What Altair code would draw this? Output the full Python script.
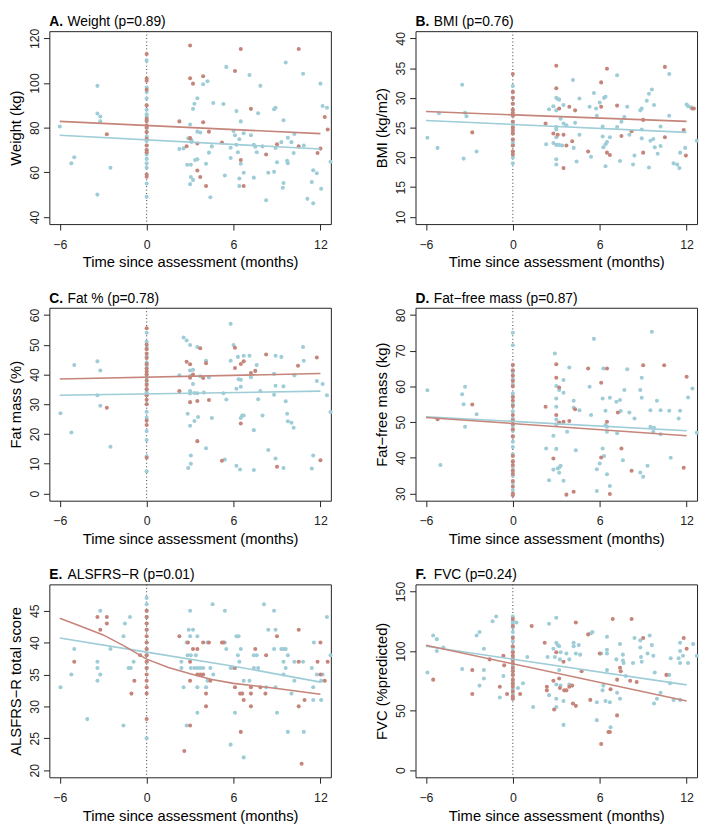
import altair as alt
import pandas as pd

FONT = "Liberation Sans"
RED = "#C5857A"
BLUE = "#9ECCD7"
INK = "#222222"

X_DOMAIN = [-6.72, 12.72]
X_TICKS = [-6, 0, 6, 12]
X_TITLE = "Time since assessment (months)"

# ---------------- Panel A: Weight ----------------
A_RED = [(-2.75, 77), (2.26, 82.8), (2.76, 71.7), (3.0, 116.8), (3.0, 102.1), (3.2, 99.7), (3.0, 75.3),
         (3.5, 72.9), (3.5, 60.8), (3.7, 57.9), (3.9, 103), (3.9, 82.4), (4.3, 78.2), (4.1, 53.9),
         (5.2, 73.3), (6.1, 105.4), (6.5, 115.2), (6.5, 65.5), (6.7, 53.9), (7.2, 88.4), (8.25, 68.0),
         (9.0, 72.6), (10.5, 115.2), (10.5, 71.6), (11.8, 68.6), (12.0, 70.6), (12.3, 84.8), (12.5, 79.2)]
A_RED_AT0 = [113, 102, 101, 97, 90, 84, 83, 81, 80, 78, 75, 72, 70, 69, 59, 58]
A_BLUE = [(-6, 80.5), (-5.2, 64), (-5.0, 66.7), (-3.4, 98.7), (-3.4, 86.3), (-3.2, 85), (-3.2, 82.8),
          (-2.5, 62), (-3.4, 50), (2.26, 70.4), (2.55, 70.7), (2.87, 75.2), (3.2, 88.4), (3.3, 90.7),
          (3.5, 93.2), (3.0, 81.4), (3.1, 73.6), (3.1, 74.3), (3.5, 78.2), (3.7, 77.8), (2.8, 63.4),
          (3.05, 63.4), (3.35, 65.5), (3.5, 65.8), (3.05, 57.9), (3.2, 56.6), (3.0, 54.7), (3.9, 99.4),
          (4.2, 100.8), (4.3, 68.8), (4.1, 63.8), (4.4, 48.8), (4.5, 71.6), (4.6, 91.0), (5.3, 90.6),
          (5.5, 107.2), (5.4, 58.6), (5.8, 71.0), (5.8, 66.4), (6.0, 78.5), (6.1, 76.6), (6.2, 87.4),
          (6.2, 72.3), (6.3, 69.0), (6.4, 74.8), (6.5, 82.8), (6.5, 63.8), (6.4, 57.2), (6.4, 53.9),
          (6.7, 59.8), (6.7, 77.5), (7.1, 103.6), (7.2, 76.6), (7.5, 71.4), (7.4, 72.3), (7.4, 57.6),
          (7.6, 69.0), (7.85, 98.7), (7.7, 86.4), (8.0, 71.6), (8.25, 47.5), (8.4, 59.8), (8.8, 88.2),
          (8.9, 88.9), (8.8, 60.2), (8.9, 70.9), (9.0, 64.5), (9.3, 73.5), (9.45, 83.3), (9.45, 55.2),
          (9.4, 53.1), (9.6, 109.2), (9.75, 75.5), (9.7, 65.1), (9.75, 64.1), (10.0, 73.5), (10.2, 77.2),
          (10.15, 68.6), (10.8, 104.1), (10.85, 72.0), (11.1, 48.1), (11.4, 55.6), (11.5, 60.9),
          (11.5, 46.1), (11.75, 59.6), (12.0, 99.7), (12.05, 52.6), (12.15, 89.7), (12.45, 88.9),
          (12.7, 64.7)]
A_BLUE_AT0 = [110, 98, 96, 93, 88, 86, 85, 83, 80, 78, 76, 74, 72, 70, 68, 66, 64, 62, 55, 49]
A_FIT_T = [-6, 12]
A_FIT_RED = [82.8, 77.3]
A_FIT_BLUE = [76.6, 70.4]

# ---------------- Panel B: BMI ----------------
B_RED = [(-2.8, 24.2), (2.26, 25.7), (2.8, 24.0), (3.0, 35.4), (3.0, 31.6), (3.1, 23.8), (3.2, 28.2),
         (3.5, 23.8), (3.5, 18.2), (3.7, 22.0), (3.9, 28.5), (4.1, 22.7), (4.3, 27.9), (5.2, 21.0),
         (6.1, 32.6), (6.1, 28.5), (6.5, 34.9), (6.5, 20.8), (6.7, 20.4), (7.2, 28.7), (7.5, 23.6),
         (8.2, 24.4), (9.0, 26.3), (9.0, 20.8), (10.5, 35.2), (10.5, 23.4), (11.8, 24.6), (11.95, 20.3),
         (12.4, 28.2), (12.5, 28.2)]
B_RED_AT0 = [34, 31, 30, 29, 28, 27.5, 27, 26, 25, 24.5, 24, 23, 22, 21, 20.5]
B_BLUE = [(-5.9, 23.3), (-5.2, 21.6), (-5.1, 27.4), (-3.5, 32.2), (-3.4, 19.8), (-3.3, 27.5), (-3.2, 26.9),
          (-2.5, 21.0), (2.3, 22.2), (2.5, 28.1), (2.8, 28.6), (2.8, 22.4), (3.0, 30.0), (3.1, 29.8),
          (3.2, 29.7), (3.0, 27.9), (3.0, 25.1), (3.0, 24.7), (3.0, 23.4), (3.0, 22.1), (3.2, 22.1),
          (3.0, 19.7), (3.0, 18.8), (3.3, 26.5), (3.4, 22.0), (3.5, 25.7), (3.7, 25.4), (3.5, 28.8),
          (4.15, 33.0), (4.2, 21.6), (4.3, 25.8), (4.4, 19.3), (4.6, 29.9), (4.6, 23.8), (5.3, 28.5),
          (5.4, 20.1), (5.6, 30.8), (5.75, 28.2), (5.8, 27.0), (6.0, 29.2), (6.2, 25.2), (6.2, 23.5),
          (6.25, 21.7), (6.3, 30.0), (6.4, 30.2), (6.4, 22.2), (6.4, 18.5), (6.5, 22.6), (6.7, 23.4),
          (7.2, 25.1), (7.2, 33.8), (7.4, 19.4), (7.5, 26.0), (7.7, 26.8), (7.9, 28.5), (8.05, 23.8),
          (8.3, 18.8), (8.4, 20.3), (8.8, 27.9), (8.9, 28.2), (8.9, 24.7), (8.9, 23.2), (9.25, 29.5),
          (9.4, 30.7), (9.5, 22.8), (9.4, 18.3), (9.6, 31.4), (9.7, 23.1), (9.75, 28.8), (9.8, 21.7),
          (10.0, 20.6), (10.2, 21.9), (10.2, 25.2), (10.8, 27.0), (10.8, 34.0), (11.1, 19.0),
          (11.35, 18.8), (11.55, 20.8), (11.5, 18.2), (11.9, 21.6), (12.0, 28.9), (12.1, 28.6),
          (12.3, 28.4), (12.7, 22.8)]
B_BLUE_AT0 = [32, 31, 30, 29, 28, 27, 26, 25.5, 25, 24, 23, 22.5, 22, 21, 20, 19]
B_FIT_T = [-6, 12]
B_FIT_RED = [27.7, 26.05]
B_FIT_BLUE = [26.2, 24.2]

# ---------------- Panel C: Fat % ----------------
C_RED = [(-2.75, 28.8), (2.26, 34.4), (2.76, 44.3), (3.0, 43.4), (3.0, 38.9), (3.0, 30.7), (3.2, 40.0),
         (3.5, 31.1), (3.5, 17.6), (3.7, 48.8), (3.9, 38.8), (4.1, 43.8), (4.3, 31.4), (5.2, 11.0),
         (6.1, 49.0), (6.1, 42.2), (6.5, 43.5), (6.5, 23.5), (6.7, 44.4), (7.2, 40.5), (7.5, 41.2),
         (8.25, 46.7), (9.0, 9.0), (10.45, 42.9), (11.75, 45.7), (12.0, 11.2)]
C_RED_AT0 = [55.5, 50, 48.5, 47, 45.5, 43.5, 42, 41, 40, 38, 36.5, 35, 33, 31.5, 30, 24.5, 23, 12]
C_BLUE = [(-5.95, 27.0), (-5.2, 20.5), (-5.0, 43.2), (-3.4, 44.4), (-3.4, 33.0), (-3.2, 41.3),
          (-3.2, 29.5), (-2.5, 15.7), (2.26, 39.7), (2.55, 52.4), (2.76, 51.4), (2.83, 26.8), (2.87, 8.6),
          (3.0, 49.9), (3.0, 41.3), (3.0, 39.5), (3.0, 34.4), (3.0, 33.6), (3.0, 22.8), (3.05, 12.8),
          (3.05, 10.0), (3.2, 41.6), (3.2, 36.8), (3.3, 33.8), (3.3, 24.4), (3.5, 49.2), (3.5, 33.7),
          (3.55, 25.7), (3.7, 39.4), (3.95, 33.9), (4.1, 44.6), (4.1, 15.2), (4.3, 39.0), (4.5, 25.4),
          (5.4, 11.4), (5.3, 33.7), (5.5, 31.6), (5.8, 57.0), (5.8, 44.6), (6.0, 49.9), (6.2, 35.2),
          (6.2, 9.3), (6.3, 45.9), (6.35, 38.4), (6.45, 8.1), (6.5, 38.2), (6.5, 35.9), (6.5, 25.4),
          (6.6, 26.2), (6.7, 46.3), (6.7, 26.2), (7.1, 46.3), (7.2, 39.1), (7.4, 21.3), (7.4, 7.9),
          (7.6, 43.2), (7.7, 31.7), (7.85, 34.4), (8.0, 26.2), (8.4, 14.6), (8.8, 40.2), (8.8, 33.2),
          (8.9, 46.3), (8.9, 36.2), (8.9, 11.8), (9.3, 45.9), (9.45, 36.0), (9.45, 8.6), (9.6, 31.0),
          (9.7, 26.8), (9.75, 24.3), (10.0, 23.8), (10.15, 22.1), (10.2, 39.7), (10.8, 49.2),
          (10.85, 44.6), (11.4, 8.4), (11.5, 12.8), (11.75, 37.8), (12.15, 36.8), (12.45, 33.0),
          (12.7, 27.4)]
C_BLUE_AT0 = [54, 51, 49, 46, 44, 43, 42, 40, 39, 37, 35, 34, 33, 30, 27.5, 25.5, 21, 18, 12.5, 7.5]
C_FIT_T = [-6, 12]
C_FIT_RED = [38.5, 40.3]
C_FIT_BLUE = [33.0, 34.4]

# ---------------- Panel D: Fat-free mass ----------------
D_RED = [(-5.2, 50.8), (-2.8, 54.9), (2.26, 54.3), (2.8, 39.8), (3.0, 66.2), (3.0, 62.4), (3.0, 52.0),
         (3.2, 59.7), (3.2, 49.9), (3.5, 50.1), (3.7, 29.7), (3.9, 50.3), (4.2, 30.5), (4.3, 53.6),
         (5.2, 65.0), (6.1, 61.0), (6.1, 40.1), (6.5, 65.0), (6.5, 50.1), (6.7, 29.9), (7.25, 52.7),
         (7.5, 42.6), (8.2, 36.4), (9.0, 65.9), (10.45, 65.9), (11.8, 37.2), (12.0, 62.7)]
D_RED_AT0 = [66, 64.5, 63, 61.5, 60, 57, 56, 54.5, 52, 50.5, 49.5, 48, 46, 40.5, 39, 38, 36.5, 35.5,
             33.5, 32, 30, 29.5]
D_BLUE = [(-5.9, 58.9), (-5.0, 38.0), (-3.5, 57.8), (-3.4, 55.0), (-3.3, 59.9), (-2.5, 52.2), (-3.3, 48.7),
          (2.3, 42.6), (2.5, 33.7), (2.8, 46.2), (2.8, 36.7), (2.9, 69.2), (3.0, 60.1), (3.0, 56.6),
          (3.0, 54.3), (3.0, 50.7), (3.0, 49.3), (3.0, 42.5), (3.1, 37.0), (3.2, 37.3), (3.2, 35.8),
          (3.3, 37.8), (3.2, 59.0), (3.5, 61.8), (3.5, 58.2), (3.5, 33.6), (3.75, 47.3), (3.9, 65.3),
          (4.2, 56.0), (4.2, 54.0), (4.35, 42.1), (4.6, 53.3), (5.3, 59.9), (5.4, 52.0), (5.6, 73.3),
          (5.8, 30.7), (5.8, 36.8), (6.0, 38.4), (6.2, 42.6), (6.2, 56.6), (6.25, 65.0), (6.3, 40.5),
          (6.4, 53.2), (6.4, 49.2), (6.5, 48.7), (6.5, 47.3), (6.5, 35.4), (6.7, 56.8), (6.7, 32.1),
          (7.15, 55.7), (7.2, 46.9), (7.4, 56.2), (7.45, 53.1), (7.6, 39.3), (7.7, 59.0), (7.9, 64.8),
          (8.05, 52.7), (8.4, 51.0), (8.8, 59.0), (8.8, 35.9), (8.9, 62.4), (8.9, 56.8), (9.0, 34.7),
          (9.3, 37.8), (9.5, 53.3), (9.5, 48.7), (9.6, 75.3), (9.75, 48.4), (9.7, 47.3), (9.95, 56.0),
          (10.2, 53.3), (10.2, 46.6), (10.8, 53.2), (10.9, 40.0), (11.45, 51.0), (11.55, 53.2),
          (12.1, 56.9), (12.4, 59.4), (12.7, 47.0)]
D_BLUE_AT0 = [75, 71.5, 66, 64, 62, 60.5, 58, 57, 55, 53, 51, 49, 47.5, 46, 44.5, 43, 41, 39, 37.5, 36,
              35, 33, 31]
D_FIT_T = [-6, 12]
D_FIT_RED = [51.3, 46.2]
D_FIT_BLUE = [51.5, 47.6]

# ---------------- Panel E: ALSFRS-R ----------------
E_RED = [(-5.0, 37), (-3.4, 44), (-3.2, 42), (-2.75, 44), (-2.75, 43), (-1.05, 32), (-0.85, 34),
         (-0.45, 38), (2.26, 41), (2.6, 23), (2.85, 40), (3.0, 27), (3.0, 37), (3.0, 34), (3.2, 39),
         (3.5, 39), (3.5, 35), (3.7, 35), (3.9, 35), (3.9, 40), (4.1, 32), (4.1, 30), (4.3, 40),
         (4.4, 34), (5.2, 40), (5.3, 40), (6.1, 36), (6.1, 33), (6.45, 32), (6.6, 32), (6.5, 26),
         (6.7, 31), (7.2, 33), (7.2, 32), (7.2, 30), (7.5, 39), (7.85, 33), (8.25, 38), (8.2, 32),
         (9.0, 41), (10.5, 42), (10.5, 37), (10.5, 30), (10.7, 21), (10.9, 31), (11.8, 37), (12.0, 40),
         (12.0, 35), (12.3, 34), (12.5, 37)]
E_RED_AT0 = [45, 44, 43, 42, 41, 40, 39, 38, 37, 36, 35, 34, 33, 32, 28]
E_BLUE = [(-5.95, 33), (-5.2, 35), (-5.0, 39), (-4.1, 28), (-3.2, 45), (-3.4, 37), (-3.4, 36), (-3.2, 35),
          (-3.4, 34), (-2.5, 39), (-1.6, 41), (-1.5, 43), (-1.6, 27), (-1.15, 44), (-1.25, 36),
          (-1.1, 36), (-0.9, 37), (2.4, 37), (2.4, 36), (2.55, 33), (2.76, 40), (2.76, 27), (2.83, 38),
          (3.05, 38), (2.9, 42), (3.2, 42), (3.0, 45), (3.0, 41), (3.05, 36), (3.3, 36), (3.5, 41),
          (3.4, 38), (3.5, 36), (3.5, 33), (3.5, 29), (3.7, 36), (3.9, 36), (4.2, 34), (4.1, 33),
          (4.2, 40), (4.4, 36), (4.55, 46), (4.6, 35), (5.4, 45), (5.4, 40), (5.5, 39), (5.8, 24),
          (5.8, 36), (6.0, 36), (6.1, 29), (6.2, 41), (6.35, 41), (6.3, 38), (6.4, 37), (6.5, 39),
          (6.7, 22), (6.7, 34), (7.1, 34), (7.4, 38), (7.6, 38), (7.4, 36), (7.7, 36), (8.1, 46),
          (8.4, 42), (8.25, 33), (8.8, 45), (8.8, 39), (8.9, 42), (8.9, 33), (9.0, 29), (9.3, 39),
          (9.45, 39), (9.6, 39), (9.45, 37), (9.45, 35), (9.6, 36), (9.75, 38), (9.75, 26), (10.0, 32),
          (10.2, 37), (10.2, 34), (10.8, 37), (10.85, 26), (11.4, 36), (11.55, 40), (11.5, 33),
          (11.5, 31), (11.75, 35), (12.05, 34), (12.05, 31), (12.15, 35), (12.45, 44), (12.7, 38)]
E_BLUE_AT0 = [47, 46, 45, 44, 43, 42, 40, 39, 38, 37, 36, 25]
E_FIT_RED_T = [-6, -4.5, -3, -1.5, 0, 1.5, 3, 4.5, 6, 9, 12]
E_FIT_RED = [43.8, 42.5, 41.2, 39.4, 37.4, 36.1, 35.1, 34.2, 33.6, 32.8, 31.9]
E_FIT_BLUE_T = [-6, 0, 6, 12]
E_FIT_BLUE = [40.7, 38.5, 36.3, 33.8]

# ---------------- Panel F: FVC ----------------
F_RED = [(-5.5, 76), (-2.8, 84), (-2.8, 64), (-1.6, 93), (-0.9, 70), (-0.65, 96), (-0.6, 88), (-0.4, 64),
         (0.5, 64), (1.3, 121), (2.2, 107), (2.35, 70), (2.35, 67), (2.8, 75), (2.85, 51), (3.0, 99),
         (3.2, 77), (3.25, 69), (3.5, 91), (3.55, 67), (3.7, 67), (3.9, 70), (4.1, 71), (4.35, 124),
         (4.15, 56), (4.35, 54), (4.75, 83), (5.2, 114), (5.35, 59), (6.0, 98), (6.1, 22), (6.6, 32),
         (6.7, 32), (6.75, 68), (6.9, 127), (7.2, 76), (7.2, 46), (7.4, 86), (7.45, 83), (8.1, 75),
         (8.2, 127), (8.55, 74), (9.0, 111), (10.6, 80), (11.8, 111), (12.0, 102)]
F_RED_AT0 = [127, 121, 111, 104, 99, 96, 93, 90, 86, 83, 80, 76, 73, 70, 66, 62, 60]
F_BLUE = [(-5.9, 82), (-5.5, 113), (-5.25, 110), (-5.25, 100), (-4.8, 103), (-3.5, 85), (-2.5, 113),
          (-2.3, 116), (-2.3, 71), (-2.0, 102), (-2.0, 84), (-2.0, 77), (-1.4, 125), (-1.15, 129),
          (-0.9, 61), (-0.65, 79), (0.25, 124), (0.35, 69), (0.7, 73), (1.0, 95), (1.4, 53), (2.4, 95),
          (2.5, 123), (2.5, 63), (2.8, 102), (3.0, 128), (3.0, 107), (3.1, 105), (2.9, 95), (3.0, 72),
          (3.0, 60), (3.0, 53), (3.2, 104), (3.3, 99), (3.25, 93), (3.2, 84), (3.3, 71), (3.5, 38),
          (3.5, 58), (3.7, 98), (3.9, 93), (3.9, 72), (4.2, 107), (4.2, 104), (4.35, 98), (4.55, 105),
          (4.65, 97), (5.4, 115), (5.5, 116), (5.8, 42), (5.8, 57), (6.1, 98), (6.2, 67), (6.25, 71),
          (6.5, 112), (6.5, 101), (6.5, 98), (6.5, 84), (6.4, 58), (6.75, 36), (6.7, 57), (7.15, 93),
          (7.2, 65), (7.4, 106), (7.4, 60), (7.6, 97), (7.6, 92), (7.65, 90), (7.8, 79), (8.3, 90),
          (8.4, 111), (8.8, 109), (8.8, 103), (8.85, 95), (8.9, 91), (9.3, 98), (9.45, 113), (9.6, 105),
          (9.7, 96), (9.75, 56), (9.8, 82), (9.95, 60), (10.2, 65), (10.8, 80), (10.85, 73), (10.9, 94),
          (11.1, 59), (11.45, 94), (11.55, 107), (11.55, 100), (11.55, 90), (11.55, 59), (11.75, 96),
          (12.1, 90), (12.45, 106), (12.7, 96)]
F_BLUE_AT0 = [129, 125, 123, 120, 116, 112, 108, 103, 100, 95, 92, 88, 84, 80, 75, 72, 68, 64, 60]
F_FIT_T = [-6, 12]
F_FIT_RED = [104.9, 58.1]
F_FIT_BLUE = [104.0, 71.6]

W, H = 286, 196


def panel(letter, name, ytitle, red, red0, blue, blue0, rt, rv, bt, bv, ydom, yticks):
    rows = [{"t": t, "v": v, "g": "blue"} for t, v in blue]
    rows += [{"t": 0, "v": v, "g": "blue"} for v in blue0]
    rows += [{"t": t, "v": v, "g": "red"} for t, v in red]
    rows += [{"t": 0, "v": v, "g": "red"} for v in red0]
    pts = pd.DataFrame(rows)
    fit = pd.DataFrame(
        [{"t": t, "v": v, "g": "blue"} for t, v in zip(bt, bv)]
        + [{"t": t, "v": v, "g": "red"} for t, v in zip(rt, rv)]
    )
    x = alt.X("t:Q", scale=alt.Scale(domain=X_DOMAIN, nice=False, zero=False),
              axis=alt.Axis(values=X_TICKS, title=X_TITLE, labelPadding=8.5, titleY=43.5,
                            titleBaseline="alphabetic"))
    y = alt.Y("v:Q", scale=alt.Scale(domain=ydom, nice=False, zero=False),
              axis=alt.Axis(values=yticks, title=ytitle, labelAngle=270, labelAlign="center",
                            labelBaseline="alphabetic", labelPadding=5, titleX=-29,
                            titleBaseline="alphabetic"))
    color = alt.Color("g:N", scale=alt.Scale(domain=["blue", "red"], range=[BLUE, RED]), legend=None)

    rule = alt.Chart(pd.DataFrame({"t": [0]})).mark_rule(
        color="#333333", strokeDash=[1, 2.5], strokeWidth=1).encode(x=x)
    dots = alt.Chart(pts).mark_circle(size=17, opacity=1).encode(x=x, y=y, color=color)
    lines = alt.Chart(fit).mark_line(strokeWidth=1.6).encode(x=x, y=y, color=color)
    t1 = alt.Chart(pd.DataFrame({"s": [letter]})).mark_text(
        align="left", baseline="alphabetic", font=FONT, fontSize=14, fontWeight="bold", color="black"
    ).encode(x=alt.value(0), y=alt.value(-5), text="s:N")
    t2 = alt.Chart(pd.DataFrame({"s": [name]})).mark_text(
        align="left", baseline="alphabetic", font=FONT, fontSize=14, color="black"
    ).encode(x=alt.value(18.5), y=alt.value(-5), text="s:N")
    return alt.layer(rule, dots, lines, t1, t2).properties(width=W, height=H)


pA = panel("A.", "Weight (p=0.89)", "Weight (kg)", A_RED, A_RED_AT0, A_BLUE, A_BLUE_AT0,
           A_FIT_T, A_FIT_RED, A_FIT_T, A_FIT_BLUE, [36.8, 123.2], [40, 60, 80, 100, 120])
pB = panel("B.", "BMI (p=0.76)", "BMI (kg/m2)", B_RED, B_RED_AT0, B_BLUE, B_BLUE_AT0,
           B_FIT_T, B_FIT_RED, B_FIT_T, B_FIT_BLUE, [8.8, 41.2], [10, 15, 20, 25, 30, 35, 40])
pC = panel("C.", "Fat % (p=0.78)", "Fat mass (%)", C_RED, C_RED_AT0, C_BLUE, C_BLUE_AT0,
           C_FIT_T, C_FIT_RED, C_FIT_T, C_FIT_BLUE, [-2.4, 62.4], [0, 10, 20, 30, 40, 50, 60])
pD = panel("D.", "Fat\u2212free mass (p=0.87)", "Fat\u2212free mass (kg)", D_RED, D_RED_AT0, D_BLUE,
           D_BLUE_AT0, D_FIT_T, D_FIT_RED, D_FIT_T, D_FIT_BLUE, [28, 82], [30, 40, 50, 60, 70, 80])
pE = panel("E.", "ALSFRS\u2212R (p=0.01)", "ALSFRS\u2212R total score", E_RED, E_RED_AT0, E_BLUE,
           E_BLUE_AT0, E_FIT_RED_T, E_FIT_RED, E_FIT_BLUE_T, E_FIT_BLUE, [18.88, 49.12],
           [20, 25, 30, 35, 40, 45])
pF = panel("F.", "FVC (p=0.24)", "FVC (%predicted)", F_RED, F_RED_AT0, F_BLUE, F_BLUE_AT0,
           F_FIT_T, F_FIT_RED, F_FIT_T, F_FIT_BLUE, [-6, 156], [0, 50, 100, 150])

chart = alt.concat(
    pA, pB, pC, pD, pE, pF, columns=2, spacing={"row": 85, "column": 86}, bounds="flush", padding=0
).configure_view(
    stroke=INK, strokeWidth=1
).configure_axis(
    domain=False, grid=False, ticks=True, tickSize=6, tickColor=INK, tickWidth=1,
    labelFont=FONT, labelFontSize=12.5, labelColor=INK, labelFlush=False, labelOverlap=False,
    labelPadding=3, titleFont=FONT, titleFontSize=15, titleFontWeight="normal", titleColor="black"
)

chart.save("out.html", embed_options={"renderer": "svg", "actions": False})
